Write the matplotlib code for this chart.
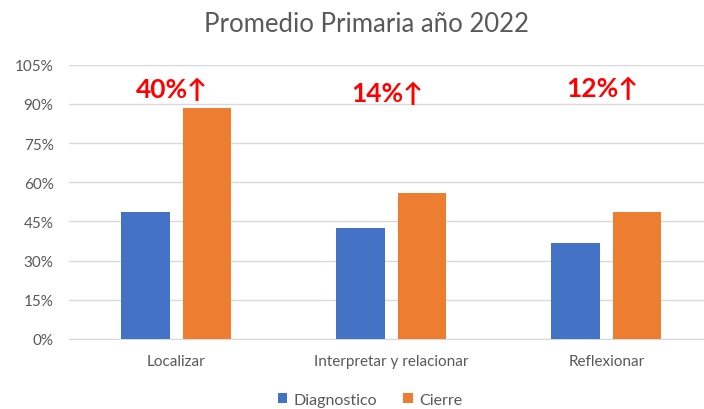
import matplotlib
matplotlib.use("Agg")
import matplotlib.pyplot as plt
import numpy as np

categories = ["Localizar", "Interpretar y relacionar", "Reflexionar"]
diagnostico = [48.7, 42.5, 36.6]
cierre = [88.3, 55.9, 48.5]
increase_labels = ["40%↑", "14%↑", "12%↑"]
label_y = [95.5, 94.0, 96.0]
yticks = [0, 15, 30, 45, 60, 75, 90, 105]

plt.rcParams['font.family'] = ['Lato', 'DejaVu Sans']

fig = plt.figure(figsize=(7.04, 4.10), dpi=100)
ax = fig.add_axes([68.8/704, 70/410, 645/704, (340-65.7)/410])

x = np.arange(len(categories))
w = 0.224
off = 0.143
ax.bar(x - off, diagnostico, w, color="#4472C4", label="Diagnostico", zorder=3)
ax.bar(x + off, cierre, w, color="#ED7D31", label="Cierre", zorder=3)

ax.set_xlim(-0.5, 2.5)
ax.set_ylim(0, 105)
ax.set_yticks(yticks)
ax.set_yticklabels([f"{t}%" for t in yticks])
ax.set_xticks(x)
ax.set_xticklabels(categories)
ax.grid(axis="y", color="#D9D9D9", linewidth=1, zorder=0)
for s in ["top", "right", "left"]:
    ax.spines[s].set_visible(False)
ax.spines["bottom"].set_color("#D9D9D9")
ax.tick_params(axis="both", length=0, labelsize=11, colors="#595959")
ax.tick_params(axis="x", pad=11)
ax.tick_params(axis="y", pad=11)

for xi, lab, ly in zip(x, increase_labels, label_y):
    ax.text(xi - 0.02, ly, lab, color="#FF0000", fontsize=19, fontweight="bold",
            ha="center", va="center", family=['Lato', 'DejaVu Sans'])

fig.text(366/704, 1 - 24/410, "Promedio Primaria año 2022", ha="center", va="center",
         fontsize=18.5, color="#595959")

leg = fig.legend(loc="center", bbox_to_anchor=(370/704, 1 - 401/410), ncol=2, frameon=False,
                 fontsize=11.5, handlelength=0.6, handleheight=0.6, columnspacing=1.6,
                 handletextpad=0.4, labelcolor="#595959")

fig.savefig("out.png", dpi=100)
